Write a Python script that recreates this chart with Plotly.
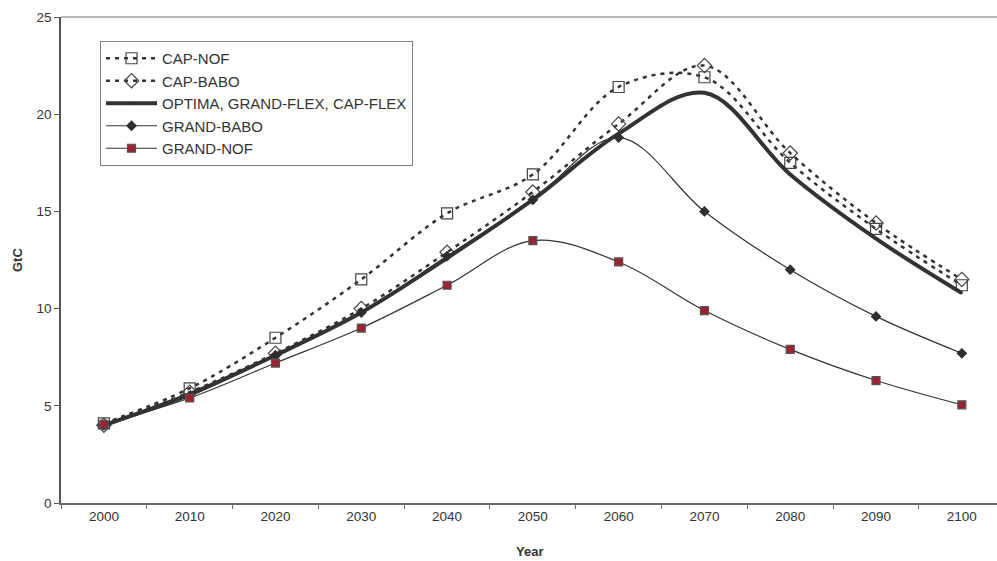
import plotly.graph_objects as go

# Years on the category axis
years = ["2000", "2010", "2020", "2030", "2040", "2050", "2060", "2070", "2080", "2090", "2100"]

# Emissions per scenario (GtC)
cap_nof = [4.1, 5.9, 8.5, 11.5, 14.9, 16.9, 21.4, 21.9, 17.5, 14.1, 11.2]
cap_babo = [4.0, 5.7, 7.7, 10.0, 12.9, 16.0, 19.5, 22.5, 18.0, 14.4, 11.5]
optima_flex = [4.0, 5.6, 7.6, 9.8, 12.6, 15.6, 19.0, 21.1, 16.9, 13.6, 10.8]
grand_babo = [4.0, 5.5, 7.6, 9.8, 12.7, 15.6, 18.8, 15.0, 12.0, 9.6, 7.7]
grand_nof = [4.05, 5.4, 7.2, 9.0, 11.2, 13.5, 12.4, 9.9, 7.9, 6.3, 5.05]

INK = "#333333"
FONT = "Liberation Sans, Arial, sans-serif"

fig = go.Figure()

def add(name, y, width, dash, symbol, msize, mcolor, mline, group):
    fig.add_trace(go.Scatter(
        x=years, y=y, name=name, mode="lines+markers",
        legendgroup=group,
        line=dict(color=INK, width=width, dash=dash, shape="spline", smoothing=1),
        marker=dict(symbol=symbol, size=msize, color=mcolor,
                    line=dict(color=mline, width=1.2)),
    ))

add("CAP-NOF", cap_nof, 2.5, "4px,5px", "square-open", 11, "#444444", "#444444", "a")
add("CAP-BABO", cap_babo, 2.5, "4px,5px", "diamond-open", 11, "#444444", "#444444", "b")
add("OPTIMA, GRAND-FLEX, CAP-FLEX", optima_flex, 4, "solid", "circle", 1, INK, INK, "c")
add("GRAND-BABO", grand_babo, 1.2, "solid", "diamond", 7, "#2e2e2e", "#2e2e2e", "d")
add("GRAND-NOF", grand_nof, 1.2, "solid", "square", 8, "#9b2230", "#555555", "e")

fig.update_layout(
    width=997, height=561,
    margin=dict(l=61, r=0, t=17, b=58),
    paper_bgcolor="white", plot_bgcolor="white",
    font=dict(family=FONT, size=13, color=INK),
    showlegend=True,
    legend=dict(
        x=0.0417, y=0.9506, xanchor="left", yanchor="top",
        bordercolor="#808080", borderwidth=1, bgcolor="white",
        font=dict(family=FONT, size=15, color=INK),
        traceorder="grouped", tracegroupgap=0,
        itemwidth=51,
    ),
    xaxis=dict(
        type="category", range=[-0.5, 10.41],
        showline=True, linecolor="#6a6a6a", linewidth=1.5,
        ticks="outside", tickson="boundaries", ticklen=4, tickcolor="#6a6a6a",
        showgrid=False, zeroline=False,
        tickfont=dict(family=FONT, size=13.5, color=INK),
    ),
    yaxis=dict(
        range=[0, 25], dtick=5, tick0=0,
        showline=True, linecolor="#555555", linewidth=1.5,
        ticks="outside", ticklen=5, tickcolor="#555555",
        showgrid=False, zeroline=False,
        tickfont=dict(family=FONT, size=13.5, color=INK),
    ),
    annotations=[
        dict(text="<b>GtC</b>", textangle=-90, xref="paper", yref="paper",
             x=-0.047, y=0.5, xanchor="center", yanchor="middle", showarrow=False,
             font=dict(family=FONT, size=13, color=INK)),
        dict(text="<b>Year</b>", xref="paper", yref="paper",
             x=0.5, y=-0.1, xanchor="center", yanchor="middle", showarrow=False,
             font=dict(family=FONT, size=13, color=INK)),
    ],
    shapes=[
        dict(type="line", xref="paper", yref="paper", x0=0, x1=1, y0=1, y1=1,
             line=dict(color="#a0a0a0", width=1.5)),
    ],
)

fig.write_html("out.html")
